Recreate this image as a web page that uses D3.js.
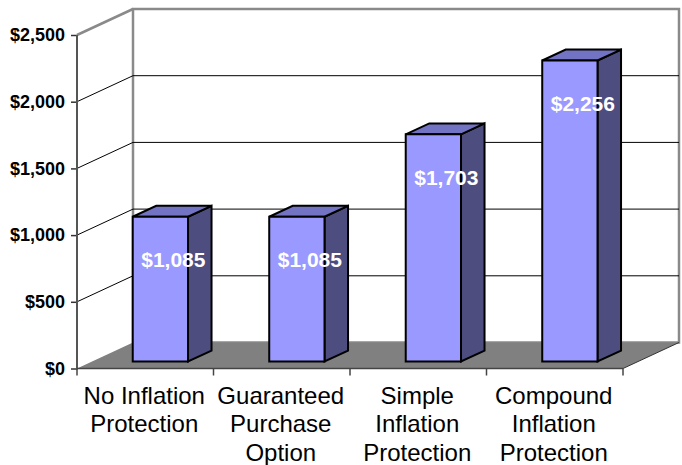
<!DOCTYPE html>
<meta charset="utf-8">
<style>
  body { margin: 0; background: #fff; }
  svg { font-family: Arial, "Liberation Sans", sans-serif; }
  .ytick text { font-size: 18px; font-weight: bold; fill: #000; }
  .xlabel { font-size: 24px; fill: #000; }
  .vlabel { font-size: 21px; font-weight: bold; fill: #fff; }
</style>
<body>
<script src="https://d3js.org/d3.v7.min.js"></script>
<script>

var categories = [
  ["No Inflation", "Protection"],
  ["Guaranteed", "Purchase", "Option"],
  ["Simple", "Inflation", "Protection"],
  ["Compound", "Inflation", "Protection"]
];
var values = [1085, 1085, 1703, 2256];
var yTicks = [0, 500, 1000, 1500, 2000, 2500];

var width = 682, height = 465;
var left = 77, right = 623, floorY = 368.5, topY = 35;
var depthX = 56, depthY = -26;   // offset of the back wall
var barFront = 0.27, barBack = 0.69;

var x = d3.scaleBand().domain(d3.range(values.length)).range([left, right]).paddingInner(0);
var y = d3.scaleLinear().domain([0, 2500]).range([floorY, topY]);

// project a point at depth fraction f
function p(px, py, f) { return [px + f * depthX, py + f * depthY]; }
function poly(pts) { return pts.map(function(d) { return d.join(","); }).join(" "); }

var svg = d3.select("body").append("svg")
    .attr("width", width)
    .attr("height", height);

svg.append("rect").attr("width", width).attr("height", height).attr("fill", "#fff");

// walls
var bl = p(left, y(2500), 1), br = p(right, y(2500), 1), bb = p(right, y(0), 1), bbl = p(left, y(0), 1);
svg.append("polygon")
    .attr("points", poly([[left, y(2500)], bl, bbl, [left, y(0)]]))
    .attr("fill", "#fff");
svg.append("rect")
    .attr("x", bl[0]).attr("y", bl[1])
    .attr("width", br[0] - bl[0]).attr("height", bb[1] - br[1])
    .attr("fill", "#fff")
    .attr("stroke", "#8a8a8a")
    .attr("stroke-width", 2.5);
svg.append("line")
    .attr("x1", left).attr("y1", y(2500)).attr("x2", bl[0]).attr("y2", bl[1])
    .attr("stroke", "#8a8a8a").attr("stroke-width", 2.5);

// gridlines
var grid = svg.append("g").attr("class", "grid");
yTicks.filter(function(t) { return t > 0 && t < 2500; }).forEach(function(t) {
  var a = p(left, y(t), 1), b = p(right, y(t), 1);
  grid.append("line").attr("x1", left).attr("y1", y(t)).attr("x2", a[0]).attr("y2", a[1])
      .attr("stroke", "#000").attr("stroke-width", 1);
  grid.append("line").attr("x1", a[0]).attr("y1", a[1]).attr("x2", b[0]).attr("y2", b[1])
      .attr("stroke", "#000").attr("stroke-width", 1);
});

// floor
svg.append("polygon")
    .attr("points", poly([[left, y(0)], [right, y(0)], bb, bbl]))
    .attr("fill", "#808080");
svg.append("line")
    .attr("x1", right).attr("y1", y(0)).attr("x2", bb[0]).attr("y2", bb[1])
    .attr("stroke", "#333").attr("stroke-width", 1);

// bars
var bw = x.bandwidth() * 0.405;
var bars = svg.append("g").attr("class", "bars");
values.forEach(function(v, i) {
  var cx = x(i) + x.bandwidth() / 2;
  var x0 = cx - bw / 2, x1 = cx + bw / 2;
  var fbl = p(x0, y(0), barFront), fbr = p(x1, y(0), barFront),
      ftl = p(x0, y(v), barFront), ftr = p(x1, y(v), barFront),
      bkr = p(x1, y(0), barBack), btr = p(x1, y(v), barBack), btl = p(x0, y(v), barBack);
  var g = bars.append("g")
      .attr("stroke", "#000").attr("stroke-width", 2).attr("stroke-linejoin", "miter");
  g.append("polygon").attr("points", poly([ftr, btr, bkr, fbr])).attr("fill", "#4d4d7f");
  g.append("polygon").attr("points", poly([ftl, btl, btr, ftr])).attr("fill", "#7373c4");
  g.append("polygon").attr("points", poly([ftl, ftr, fbr, fbl])).attr("fill", "#9999ff");

  svg.append("text")
      .attr("class", "vlabel")
      .attr("x", ftl[0] + bw / 2 + 13)
      .attr("y", ftl[1] + 43)
      .attr("dy", "0.35em")
      .attr("text-anchor", "middle")
      .text(d3.format("$,")(v));
});

// y axis
var ya = svg.append("g").attr("class", "ytick")
    .attr("transform", "translate(" + left + ",0)")
    .call(d3.axisLeft(y).tickValues(yTicks).tickSize(6).tickPadding(6).tickFormat(d3.format("$,")));
ya.select(".domain").remove();
ya.selectAll("line").attr("stroke", "#333").attr("stroke-width", 1.5);
svg.append("line")
    .attr("x1", left).attr("y1", y(2500)).attr("x2", left).attr("y2", y(0) + 1)
    .attr("stroke", "#555").attr("stroke-width", 2);

// x axis
svg.append("line")
    .attr("x1", left).attr("y1", y(0)).attr("x2", right).attr("y2", y(0))
    .attr("stroke", "#444").attr("stroke-width", 1.5);
d3.range(values.length + 1).forEach(function(i) {
  var tx = left + i * x.bandwidth();
  svg.append("line").attr("x1", tx).attr("y1", y(0)).attr("x2", tx).attr("y2", y(0) + 7)
      .attr("stroke", "#444").attr("stroke-width", 1.5);
});
categories.forEach(function(lines, i) {
  var cx = x(i) + x.bandwidth() / 2 - 1;
  var t = svg.append("text")
      .attr("class", "xlabel")
      .attr("text-anchor", "middle")
      .attr("x", cx)
      .attr("y", y(0) + 35);
  lines.forEach(function(s, j) {
    t.append("tspan").attr("x", cx).attr("dy", j ? 28.5 : 0).text(s);
  });
});

</script>
